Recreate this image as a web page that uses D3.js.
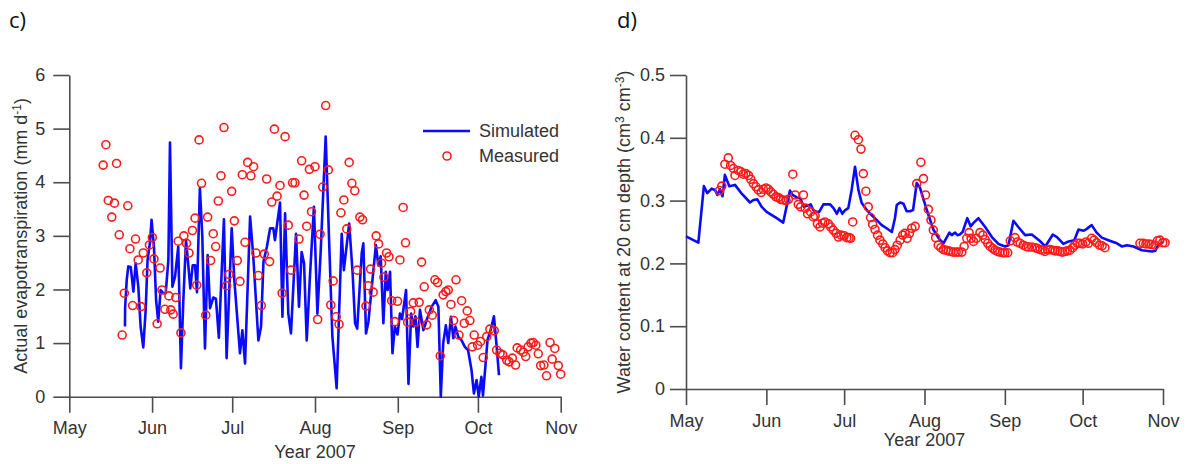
<!DOCTYPE html>
<html><head><meta charset="utf-8">
<script src="https://cdn.jsdelivr.net/npm/d3@7"></script>
<style>body{margin:0;background:#fff}svg{display:block}</style>
</head><body>
<svg id="chart" width="1189" height="464"></svg>
<script>
// ---- data (days since 1 May 2007) ----
const monthLabels = ["May","Jun","Jul","Aug","Sep","Oct","Nov"];
const etTicks = [0,1,2,3,4,5,6];
const swcTicks = [0,0.1,0.2,0.3,0.4,0.5];

const etSimDay = [20.85,20.9,21.5,22.1,23.0,24.0,24.85,25.85,26.7,27.7,28.6,29.3,30.2,30.8,31.7,32.5,33.3,34.2,35.2,36.1,37.1,37.7,38.6,39.6,40.8,41.8,42.7,43.7,44.6,45.3,46.2,47.1,47.8,48.9,49.8,50.8,51.8,52.7,53.9,54.9,56.0,57.9,58.9,60.8,61.8,62.7,63.9,64.8,65.8,67.7,68.9,70.8,71.8,72.7,74.0,75.2,76.4,77.0,78.9,79.8,80.8,82.0,83.0,84.9,86.0,87.0,87.9,88.9,90.1,91.6,92.9,94.1,96.0,97.4,98.5,100.1,102.0,102.8,104.8,106.1,107.0,107.8,109.5,110.1,111.1,112.0,114.8,115.7,116.6,117.6,118.5,119.2,120.1,121.0,121.9,122.9,123.8,124.6,126.1,127.0,128.0,128.8,129.6,130.4,131.3,132.6,133.8,135.7,137.2,138.2,139.1,140.0,141.0,141.9,142.9,143.8,144.6,145.6,146.9,148.1,149.3,150.6,151.5,152.5,153.3,154.3,154.9,156.6,157.8,159.0,160.0,160.9];
const etSimVal = [1.31,1.65,2.18,2.43,2.42,1.96,2.49,2.05,1.31,0.92,1.62,2.55,2.87,3.30,2.80,1.80,1.40,1.99,1.93,1.93,2.55,4.74,2.05,2.24,2.80,0.53,1.80,2.92,2.43,2.02,2.45,2.45,1.95,3.89,3.00,0.90,2.64,1.65,1.85,1.83,1.10,3.31,0.72,3.14,2.18,1.59,0.81,1.24,0.62,3.36,2.61,1.05,1.31,2.52,2.80,3.14,3.14,2.92,3.62,1.49,3.42,1.55,1.18,3.04,1.68,2.70,2.49,1.05,2.24,3.54,1.55,2.68,4.85,2.74,1.13,0.16,3.04,2.36,3.23,2.30,1.37,1.27,2.68,2.86,1.18,1.40,2.83,2.45,2.62,1.37,2.33,1.99,2.33,0.81,1.31,1.16,1.55,1.45,1.99,0.24,1.55,1.31,1.50,0.93,1.62,1.24,1.43,1.68,1.80,1.68,0.00,1.00,1.33,1.00,1.49,1.09,1.31,1.12,1.05,0.93,0.87,0.50,0.06,0.31,0.00,0.37,0.02,1.06,1.25,1.50,0.95,0.40];

const etMeasDay = [12.7,13.7,14.6,15.9,16.9,17.7,18.7,19.8,20.6,21.9,22.7,23.7,24.8,25.8,26.8,27.7,29.0,30.0,31.1,31.7,32.9,34.0,34.7,35.8,37.3,38.0,38.9,39.9,40.8,41.8,42.9,43.9,44.8,46.1,47.1,47.7,48.6,49.5,51.1,51.8,52.9,53.9,54.8,55.8,56.8,57.9,58.9,59.8,60.8,61.8,62.9,63.9,64.8,65.8,66.8,68.0,69.0,69.9,70.8,71.9,73.0,73.9,75.0,75.8,76.8,77.8,78.9,79.7,80.8,82.0,83.0,83.6,84.5,86.0,87.0,87.9,88.9,89.9,90.7,92.0,93.0,93.9,94.9,96.0,97.0,97.9,98.8,99.9,101.0,101.7,102.8,103.9,104.8,105.8,106.9,107.8,108.8,109.8,111.1,111.9,112.8,113.8,114.9,115.8,116.9,117.8,118.8,119.7,120.7,121.9,122.9,123.8,125.0,125.9,126.7,127.8,128.8,129.8,131.0,131.9,132.9,133.8,134.8,135.9,136.9,137.9,138.9,140.0,141.0,141.9,142.9,143.9,144.8,145.9,146.9,147.9,149.0,150.0,150.9,151.6,152.9,154.0,155.0,156.3,157.5,159.1,160.0,161.3,162.3,163.8,164.7,165.9,167.1,167.7,169.0,170.0,170.9,171.8,172.9,173.7,174.7,175.6,176.5,177.7,178.7,180.0,180.8,181.8,183.1,184.0];
const etMeasVal = [4.32,4.70,3.66,3.35,3.61,4.35,3.02,1.15,1.93,3.56,2.76,1.70,2.94,2.55,1.68,2.68,2.31,2.83,2.97,2.57,1.36,2.40,1.99,1.63,1.88,1.62,1.54,1.85,2.90,1.19,3.00,2.86,2.68,3.10,3.33,2.08,4.79,3.98,1.52,3.35,2.54,3.04,2.80,3.65,4.12,5.02,2.07,2.28,3.83,3.28,2.54,2.15,4.14,2.88,4.37,4.12,4.29,2.68,2.26,1.70,2.66,4.06,2.52,3.63,4.99,3.74,3.94,1.93,4.85,3.20,2.36,3.99,3.99,2.94,4.40,3.76,3.18,4.24,3.45,4.29,1.44,3.03,3.91,5.43,4.23,1.71,2.16,1.49,1.35,3.43,3.67,3.13,4.37,3.98,3.84,2.36,3.35,3.30,1.69,2.07,2.38,1.95,3.00,2.85,2.49,2.23,2.68,2.61,1.79,1.40,1.78,2.55,3.53,2.87,1.39,1.59,1.75,1.39,1.76,2.51,2.05,1.34,1.62,1.52,2.18,2.13,0.76,1.90,1.96,1.99,1.72,1.42,2.18,1.15,1.79,1.37,1.60,1.42,0.93,1.15,0.96,1.03,0.73,1.12,1.26,1.23,0.87,0.81,0.78,0.68,0.65,0.72,0.59,0.91,0.87,0.83,0.75,0.93,1.00,1.01,0.96,0.80,0.58,0.59,0.39,1.01,0.70,0.90,0.58,0.42];

const swcSimDay = [0.0,4.76,6.9,8.2,9.9,11.2,12.1,13.1,14.1,15.0,16.7,18.9,21.5,24.7,26.0,27.5,29.2,31.1,35.0,37.5,40.1,41.1,42.7,44.0,45.5,47.0,48.1,49.1,50.4,51.4,53.0,54.3,55.6,56.9,58.2,59.2,60.3,61.4,62.6,63.9,65.2,66.5,67.8,69.7,71.6,73.6,75.5,77.4,79.4,80.6,81.3,82.6,83.9,85.1,86.4,87.6,89.0,90.3,92.9,95.4,97.5,99.3,101.6,102.5,103.8,104.7,105.6,106.7,108.5,109.8,111.0,112.8,115.4,118.0,120.5,123.1,124.4,126.3,128.2,130.8,133.4,136.4,138.6,141.5,143.1,145.6,147.6,149.8,151.4,153.4,154.6,156.5,158.4,160.4,162.9,166.2,168.1,170.1,172.6,175.9,179.7,181.0,181.9,183.0,184.0];
const swcSimVal = [0.243,0.233,0.323,0.312,0.319,0.317,0.309,0.318,0.307,0.341,0.323,0.325,0.311,0.297,0.301,0.302,0.290,0.282,0.272,0.265,0.316,0.309,0.305,0.304,0.290,0.292,0.294,0.285,0.282,0.282,0.294,0.294,0.294,0.288,0.279,0.288,0.279,0.285,0.288,0.317,0.354,0.317,0.296,0.285,0.277,0.269,0.261,0.256,0.250,0.272,0.293,0.297,0.295,0.283,0.283,0.285,0.328,0.320,0.285,0.254,0.240,0.232,0.249,0.245,0.249,0.245,0.246,0.250,0.272,0.259,0.265,0.272,0.258,0.242,0.231,0.227,0.229,0.268,0.258,0.245,0.246,0.236,0.227,0.246,0.242,0.231,0.235,0.237,0.254,0.252,0.255,0.261,0.249,0.241,0.237,0.232,0.227,0.229,0.227,0.221,0.219,0.220,0.227,0.231,0.234];

const swcMeasDay = [12.9,13.8,15.0,16.3,17.2,18.3,18.9,20.2,21.2,22.1,23.1,24.1,25.0,26.0,27.0,27.9,29.0,29.8,30.9,31.8,32.7,33.7,34.7,35.6,36.5,37.5,38.6,39.5,41.2,42.1,43.3,44.2,45.3,46.0,46.9,48.1,49.1,49.8,50.7,51.7,52.7,53.6,54.9,55.8,56.8,57.9,58.8,59.8,61.0,62.0,62.9,63.5,64.3,65.2,66.5,67.5,68.4,69.4,70.3,71.2,72.0,72.9,73.9,74.8,75.9,76.8,77.7,78.7,79.7,80.6,81.5,82.6,83.6,84.5,85.3,86.2,87.1,88.4,89.0,90.6,91.6,92.4,93.5,94.5,95.4,96.3,97.3,98.3,99.3,100.3,101.2,102.1,103.1,104.2,105.1,106.4,107.3,108.3,109.2,110.0,110.9,112.0,113.4,114.5,115.4,116.4,117.3,118.3,119.2,120.2,121.1,122.2,123.0,124.1,125.1,126.9,127.8,128.9,130.1,131.2,132.1,133.4,134.6,135.5,136.6,137.6,138.5,139.4,140.4,141.5,142.4,143.4,144.3,145.2,146.2,147.1,148.1,149.2,150.0,151.0,152.0,153.0,154.2,155.2,156.5,157.4,158.4,159.5,160.5,161.6,175.1,176.4,177.4,178.6,179.6,180.9,181.8,182.8,183.9,184.8];
const swcMeasVal = [0.316,0.323,0.358,0.368,0.356,0.351,0.340,0.348,0.346,0.342,0.343,0.340,0.334,0.327,0.322,0.317,0.313,0.318,0.320,0.318,0.314,0.310,0.306,0.305,0.302,0.301,0.300,0.302,0.342,0.309,0.294,0.290,0.309,0.288,0.279,0.282,0.274,0.276,0.263,0.258,0.264,0.266,0.263,0.258,0.253,0.248,0.242,0.245,0.244,0.241,0.241,0.240,0.266,0.404,0.397,0.382,0.343,0.315,0.290,0.273,0.262,0.254,0.245,0.237,0.231,0.225,0.220,0.217,0.217,0.222,0.229,0.237,0.245,0.248,0.240,0.248,0.256,0.259,0.327,0.361,0.335,0.309,0.286,0.269,0.253,0.241,0.229,0.225,0.222,0.221,0.220,0.219,0.218,0.218,0.218,0.218,0.227,0.240,0.249,0.240,0.235,0.240,0.249,0.245,0.238,0.232,0.227,0.224,0.221,0.219,0.218,0.217,0.217,0.217,0.236,0.241,0.234,0.232,0.229,0.227,0.226,0.226,0.225,0.224,0.222,0.221,0.219,0.222,0.222,0.221,0.220,0.220,0.219,0.218,0.219,0.220,0.221,0.225,0.229,0.232,0.232,0.231,0.234,0.232,0.240,0.237,0.233,0.229,0.228,0.225,0.232,0.232,0.231,0.231,0.230,0.229,0.236,0.237,0.233,0.233];

// ---- drawing ----
const BLUE = "#0a0aff", RED = "#ff1a1a", AXIS = "#4d4d4d", TXT = "#333";
const FONT = "'Liberation Sans', Arial, sans-serif";
const FS = "18px";
const svg = d3.select("#chart");
const start = Date.UTC(2007, 4, 1);
const toDate = d => new Date(start + d * 864e5);
const zip = (a, b) => a.map((v, i) => [v, b[i]]);

function panel(o) {
  const g = svg.append("g");
  const x = d3.scaleUtc().domain([toDate(0), toDate(184)]).range([o.x0, o.x1]);
  const y = d3.scaleLinear().domain([0, o.yMax]).range([o.yB, o.yT]);

  const xa = g.append("g").attr("transform", `translate(0,${o.yB})`)
    .call(d3.axisBottom(x).tickValues(d3.utcMonth.range(toDate(0), toDate(185)))
      .tickFormat((d, i) => monthLabels[i]).tickSize(16).tickPadding(9).tickSizeOuter(0));
  const ya = g.append("g").attr("transform", `translate(${o.x0},0)`)
    .call(d3.axisLeft(y).tickValues(o.ticks).tickFormat(o.fmt).tickSize(16).tickPadding(o.pad).tickSizeOuter(0));
  [xa, ya].forEach(a => {
    a.select(".domain").attr("stroke", AXIS).attr("stroke-width", 1.6);
    a.selectAll(".tick line").attr("stroke", AXIS).attr("stroke-width", 1.6);
    a.selectAll("text").attr("fill", TXT).style("font-family", FONT).style("font-size", FS);
  });

  g.append("path").datum(zip(o.simDay, o.simVal))
    .attr("fill", "none").attr("stroke", BLUE).attr("stroke-width", 2.6).attr("stroke-linejoin", "round")
    .attr("d", d3.line().x(d => x(toDate(d[0]))).y(d => y(d[1])));

  g.append("g").selectAll("circle").data(zip(o.measDay, o.measVal)).join("circle")
    .attr("cx", d => x(toDate(d[0]))).attr("cy", d => y(d[1])).attr("r", 4)
    .attr("fill", "none").attr("stroke", RED).attr("stroke-width", 1.6);

  g.append("text").attr("x", (o.x0 + o.x1) / 2).attr("y", o.yearY).attr("text-anchor", "middle")
    .attr("fill", TXT).style("font-family", FONT).style("font-size", FS).text("Year 2007");

  const yl = g.append("text").attr("transform", `translate(${o.labX},${(o.yB + o.yT) / 2}) rotate(-90)`)
    .attr("text-anchor", "middle").attr("fill", TXT).style("font-family", FONT).style("font-size", FS);
  o.label.forEach(p => {
    const t = yl.append("tspan").text(p[0]);
    if (p[1] === "sup") t.attr("dy", -6).style("font-size", "12px");
    if (p[1] === "down") t.attr("dy", 6);
  });

  svg.append("text").attr("x", o.tagX).attr("y", 28).attr("fill", "#111")
    .style("font-family", "'Open Sans', sans-serif").style("font-size", "22px").text(o.tag);
  return { x, y, g };
}

panel({
  x0: 69.3, x1: 560.7, yB: 396.7, yT: 75, yMax: 6, ticks: etTicks, fmt: d3.format("d"), pad: 8,
  simDay: etSimDay, simVal: etSimVal, measDay: etMeasDay, measVal: etMeasVal,
  yearY: 458, labX: 27, tag: "c)", tagX: 9,
  label: [["Actual evapotranspiration (mm d"], ["-1", "sup"], [")", "down"]]
});

panel({
  x0: 686, x1: 1163, yB: 389, yT: 75, yMax: 0.5, ticks: swcTicks, fmt: d => d === 0 ? "0" : d3.format(".1f")(d), pad: 5,
  simDay: swcSimDay, simVal: swcSimVal, measDay: swcMeasDay, measVal: swcMeasVal,
  yearY: 446, labX: 630, tag: "d)", tagX: 617,
  label: [["Water content at 20 cm depth (cm"], ["3", "sup"], [" cm", "down"], ["-3", "sup"], [")", "down"]]
});

// legend (left panel)
const lg = svg.append("g");
lg.append("line").attr("x1", 423).attr("x2", 470).attr("y1", 131).attr("y2", 131)
  .attr("stroke", BLUE).attr("stroke-width", 2.6);
lg.append("circle").attr("cx", 447).attr("cy", 156).attr("r", 4)
  .attr("fill", "none").attr("stroke", RED).attr("stroke-width", 1.6);
lg.append("text").attr("x", 479).attr("y", 137).attr("fill", TXT)
  .style("font-family", FONT).style("font-size", FS).text("Simulated");
lg.append("text").attr("x", 479).attr("y", 162).attr("fill", TXT)
  .style("font-family", FONT).style("font-size", FS).text("Measured");
</script>
</body></html>
